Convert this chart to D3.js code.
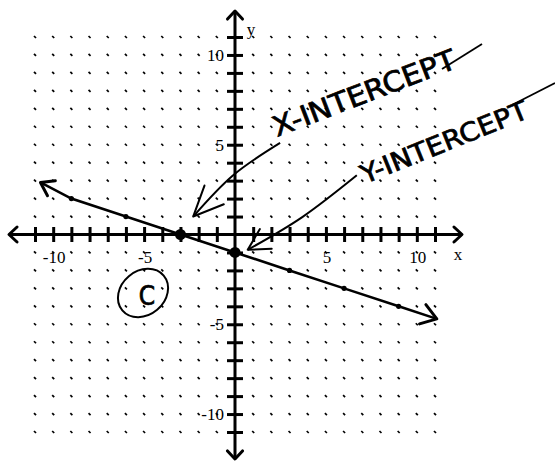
<!DOCTYPE html>
<html>
<head>
<meta charset="utf-8">
<script src="https://cdn.jsdelivr.net/npm/d3@7"></script>
<style>
  body { margin: 0; background: #fff; }
  svg { display: block; }
  .lbl { font-family: "Liberation Serif", "DejaVu Serif", serif; font-size: 17px; fill: #000; }
  .hand { font-family: "DejaVu Sans Condensed", "DejaVu Sans", sans-serif; fill: #000; stroke: #000; stroke-width: 0.7; }
</style>
</head>
<body>
<div id="chart"></div>
<script>
// grid + axes
const gridVals = d3.range(-11, 12);
const xLabels = [-10, -5, 5, 10];
const yLabels = [10, 5, -5, -10];

// the drawn line (hand-drawn ends)
const linePts = [[-10.7, 2.9], [-9, 2], [-6, 1], [-3, 0], [0, -1], [3, -2], [6, -3], [9, -4], [11.1, -4.7]];
const smallPts = [[-9, 2], [-6, 1], [3, -2], [6, -3], [9, -4]];
const intercepts = [[-3, 0], [0, -1]];

// handwritten notes
const notes = ["X-INTERCEPT", "Y-INTERCEPT"];
const circled = "C";

const W = 555, H = 461;
const svg = d3.select('#chart').append('svg').attr('width', W).attr('height', H);

const x = d3.scaleLinear().domain([-11, 11]).range([35, 435]);
const y = d3.scaleLinear().domain([-11, 11]).range([432, 37]);
const x0 = x(0), y0 = y(0);

// dot grid (skip the axes)
const dots = [];
gridVals.forEach(i => gridVals.forEach(j => { if (i !== 0 && j !== 0) dots.push([i, j]); }));
svg.append('g').selectAll('line').data(dots).enter().append('line')
    .attr('x1', d => x(d[0]) - 1).attr('y1', d => y(d[1]) - 1)
    .attr('x2', d => x(d[0]) + 1).attr('y2', d => y(d[1]) + 1)
    .attr('stroke', '#000').attr('stroke-width', 1.7);

// tick marks crossing the axes
const xTicks = d3.axisBottom(x).tickValues(gridVals.filter(v => v !== 0)).tickSize(15).tickFormat('');
svg.append('g').attr('transform', `translate(0,${y0 - 7.5})`).call(xTicks)
    .call(g => g.select('.domain').remove())
    .selectAll('line').attr('stroke', '#000').attr('stroke-width', 3);
const yTicks = d3.axisRight(y).tickValues(gridVals.filter(v => v !== 0)).tickSize(16).tickFormat('');
svg.append('g').attr('transform', `translate(${x0 - 8},0)`).call(yTicks)
    .call(g => g.select('.domain').remove())
    .selectAll('line').attr('stroke', '#000').attr('stroke-width', 3);

function arrowHead(g, tx, ty, ang, spread, len, sw) {
    const a1 = ang - spread, a2 = ang + spread;
    g.append('path')
        .attr('d', `M${tx + len * Math.cos(a1)},${ty + len * Math.sin(a1)}L${tx},${ty}L${tx + len * Math.cos(a2)},${ty + len * Math.sin(a2)}`)
        .attr('fill', 'none').attr('stroke', '#000').attr('stroke-width', sw)
        .attr('stroke-linecap', 'round').attr('stroke-linejoin', 'round');
}

// axes with arrows
const axes = svg.append('g');
axes.append('line').attr('x1', 9).attr('x2', 462).attr('y1', y0).attr('y2', y0)
    .attr('stroke', '#000').attr('stroke-width', 3);
axes.append('line').attr('x1', x0).attr('x2', x0).attr('y1', 11).attr('y2', 459)
    .attr('stroke', '#000').attr('stroke-width', 3);
arrowHead(axes, 9, y0, 0, 0.75, 11, 3);
arrowHead(axes, 462, y0, Math.PI, 0.75, 11, 3);
arrowHead(axes, x0, 11, Math.PI / 2, 0.75, 11, 3);
arrowHead(axes, x0, 459, -Math.PI / 2, 0.75, 11, 3);

// tick labels
svg.append('g').selectAll('text').data(xLabels).enter().append('text')
    .attr('class', 'lbl').attr('x', d => x(d) + 1).attr('y', y0 + 28)
    .attr('text-anchor', 'middle').text(d => d);
svg.append('g').selectAll('text').data(yLabels).enter().append('text')
    .attr('class', 'lbl').attr('x', x0 - 11).attr('y', d => y(d) + 6)
    .attr('text-anchor', 'end').text(d => d);
svg.append('text').attr('class', 'lbl').attr('x', 458).attr('y', y0 + 25)
    .attr('text-anchor', 'middle').text('x');
svg.append('text').attr('class', 'lbl').attr('x', 251).attr('y', 35)
    .attr('text-anchor', 'middle').text('y');

// the line
const lineGen = d3.line().x(d => x(d[0])).y(d => y(d[1]));
svg.append('path').datum(linePts).attr('d', lineGen)
    .attr('fill', 'none').attr('stroke', '#000').attr('stroke-width', 2.6);
const first = linePts[0], last = linePts[linePts.length - 1];
const aL = Math.atan2(y(linePts[1][1]) - y(first[1]), x(linePts[1][0]) - x(first[0]));
arrowHead(svg, x(first[0]), y(first[1]), aL, 0.6, 15, 3);
const pen = linePts[linePts.length - 2];
const aR = Math.atan2(y(pen[1]) - y(last[1]), x(pen[0]) - x(last[0]));
arrowHead(svg, x(last[0]), y(last[1]), aR, 0.6, 18, 3);

svg.append('g').selectAll('circle').data(smallPts).enter().append('circle')
    .attr('cx', d => x(d[0])).attr('cy', d => y(d[1])).attr('r', 2.6).attr('fill', '#000');
svg.append('g').selectAll('circle').data(intercepts).enter().append('circle')
    .attr('cx', d => x(d[0])).attr('cy', d => y(d[1])).attr('r', 5.5).attr('fill', '#000');

// handwritten arrows
const curve = d3.line().x(d => x(d[0])).y(d => y(d[1])).curve(d3.curveNatural);
const notesG = svg.append('g');
const xArrow = [[2.48, 5.1], [-0.1, 3.3], [-2.3, 1.0]];
const yArrow = [[6.7, 3.3], [3.7, 0.97], [0.7, -0.85]];
[[xArrow, 33, 0.42], [yArrow, 24, 0.5]].forEach(([pts, len, spread]) => {
    notesG.append('path').attr('d', curve(pts)).attr('fill', 'none')
        .attr('stroke', '#000').attr('stroke-width', 2);
    const t = pts[2], m = pts[1];
    const ang = Math.atan2(y(m[1]) - y(t[1]), x(m[0]) - x(t[0]));
    arrowHead(notesG, x(t[0]), y(t[1]), ang, spread, len, 2);
});

// handwritten notes
notesG.append('text').attr('class', 'hand')
    .attr('transform', 'translate(277,137) rotate(-21)')
    .attr('font-size', 28).attr('textLength', 194).attr('lengthAdjust', 'spacingAndGlyphs')
    .text(notes[0]);
notesG.append('line').attr('x1', 442).attr('y1', 69).attr('x2', 482).attr('y2', 44)
    .attr('stroke', '#000').attr('stroke-width', 1.8);
notesG.append('text').attr('class', 'hand')
    .attr('transform', 'translate(365,184) rotate(-22)')
    .attr('font-size', 26).attr('textLength', 178).attr('lengthAdjust', 'spacingAndGlyphs')
    .text(notes[1]);
notesG.append('line').attr('x1', 512).attr('y1', 105).attr('x2', 555).attr('y2', 83)
    .attr('stroke', '#000').attr('stroke-width', 1.8);

// circled C
notesG.append('ellipse').attr('cx', 143).attr('cy', 293).attr('rx', 27).attr('ry', 22)
    .attr('transform', 'rotate(-40,143,293)')
    .attr('fill', 'none').attr('stroke', '#000').attr('stroke-width', 2);
notesG.append('text').attr('class', 'hand').attr('x', 147).attr('y', 305)
    .attr('text-anchor', 'middle').attr('font-size', 26).text(circled);
</script>
</body>
</html>
